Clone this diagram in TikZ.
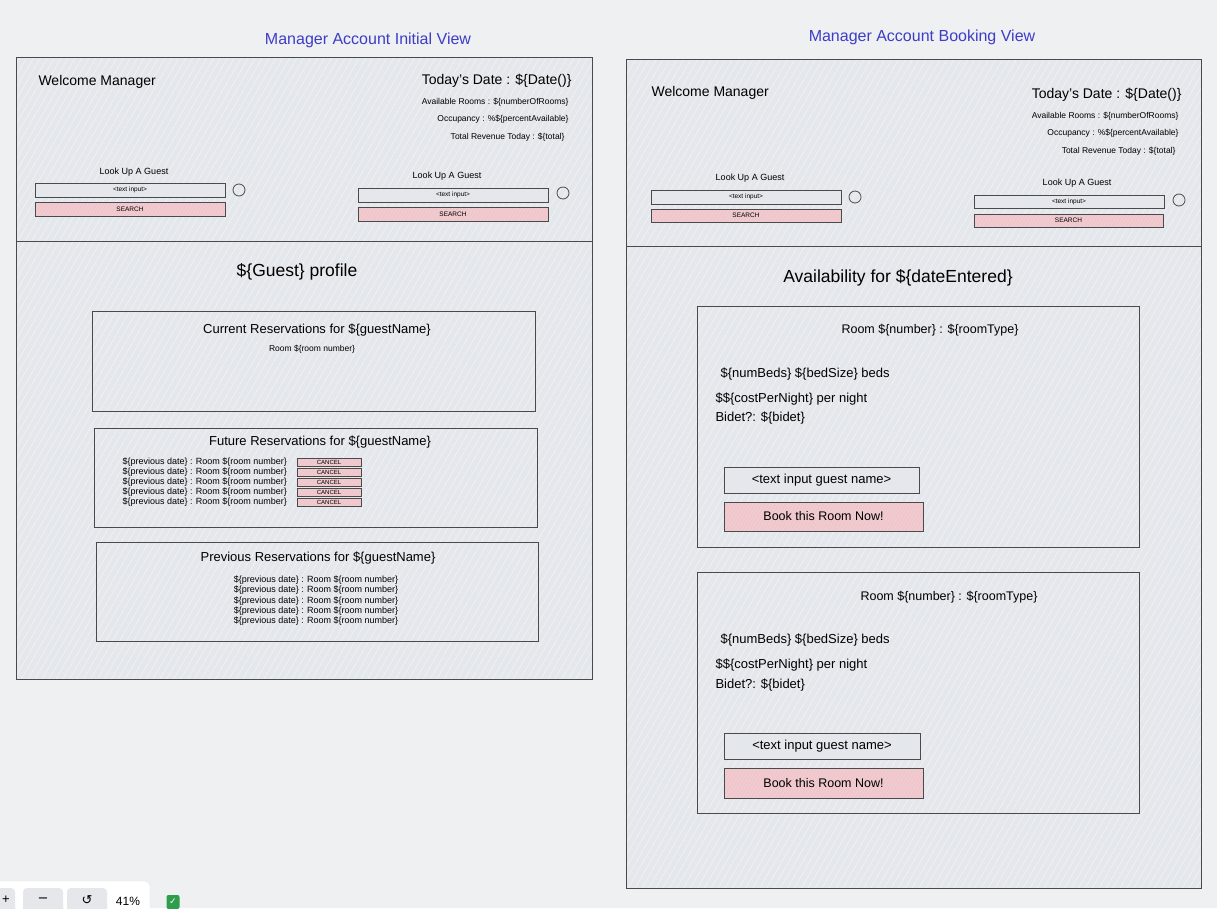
\documentclass[tikz,border=0pt]{standalone}
\usepackage{fontspec}
\setmainfont{Liberation Sans}
\newfontfamily\symfont{DejaVu Sans}
\usetikzlibrary{patterns.meta}

\definecolor{pagebg}{HTML}{EFF0F2}
\definecolor{panelfill}{HTML}{E4E7EB}
\definecolor{hatchcol}{HTML}{F4F5F7}
\definecolor{edgecol}{HTML}{4A4A4A}
\definecolor{btnpink}{HTML}{EFC6CB}
\definecolor{titleblue}{HTML}{3D3DC6}
\definecolor{toolgray}{HTML}{E6E7EA}
\definecolor{shieldgreen}{HTML}{2E9E4A}

\tikzset{
  frame/.style={draw=edgecol, line width=1pt, preaction={fill=panelfill},
    pattern={Lines[angle=60,distance=6pt,line width=.5pt]}, pattern color=hatchcol,
    inner sep=0pt},
  inputbox/.style={draw=edgecol, line width=.8pt, fill=panelfill, inner sep=0pt},
  pinkbtn/.style={draw=edgecol, line width=.8pt, preaction={fill=btnpink},
    pattern={Lines[angle=60,distance=3pt,line width=.3pt]}, pattern color=btnpink!70!white,
    inner sep=0pt},
  radio/.style={circle, draw=edgecol, line width=.8pt, minimum size=12pt, inner sep=0pt},
  viewtitle/.style={text=titleblue, font=\fontsize{16}{18}\selectfont},
  bigtext/.style={font=\fontsize{14}{16}\selectfont},
  headtext/.style={font=\fontsize{17.5}{20}\selectfont},
  midtext/.style={font=\fontsize{13}{15}\selectfont},
  smalltext/.style={font=\fontsize{8.5}{10}\selectfont},
  rowtext/.style={font=\fontsize{9}{10}\selectfont},
  tinytext/.style={font=\fontsize{6.5}{7}\selectfont},
}

\begin{document}
\begin{tikzpicture}[x=1pt,y=-1pt]

\useasboundingbox[fill=pagebg] (0,0) rectangle (1217,908);

% View: initial
\node[viewtitle] (inittitle) at (368,40) {Manager Account Initial View};
\node[frame, minimum width=576pt, minimum height=622pt] (initpage) at (304,368) {};
\node[frame, minimum width=576pt, minimum height=184pt] (inithead) at (304,149) {};

\node[bigtext, anchor=west] (initwelcome) at (35,82) {Welcome Manager};
\node[font=\fontsize{14}{16}\selectfont, anchor=east] (initdate) at (575,81) {Today's Date : \$\{Date()\}};
\node[smalltext, anchor=east] (initrooms) at (572,102) {Available Rooms : \$\{numberOfRooms\}};
\node[smalltext, anchor=east] (initocc) at (572,119) {Occupancy : \%\$\{percentAvailable\}};
\node[smalltext, anchor=east] (initrev) at (568,137) {Total Revenue Today : \$\{total\}};

% Lookup: left
\node[font=\fontsize{9}{10}\selectfont] (initlookl) at (134,172) {Look Up A Guest};
\node[inputbox, tinytext, minimum width=190pt, minimum height=14pt] (initinl) at (130,190) {<text input>};
\node[pinkbtn, tinytext, minimum width=190pt, minimum height=14pt] (initsearchl) at (130,209) {SEARCH};
\node[radio] (initradiol) at (239,190) {};

% Lookup: right
\node[font=\fontsize{9}{10}\selectfont] (initlookr) at (447,176) {Look Up A Guest};
\node[inputbox, tinytext, minimum width=190pt, minimum height=14pt] (initinr) at (453,195) {<text input>};
\node[pinkbtn, tinytext, minimum width=190pt, minimum height=14pt] (initsearchr) at (453,214) {SEARCH};
\node[radio] (initradior) at (563,193) {};

\node[headtext] (guestprofile) at (297,272) {\$\{Guest\} profile};

% Box: current reservations
\node[frame, minimum width=443pt, minimum height=100pt] (currentbox) at (313.5,361) {};
\node[midtext] (currenttitle) at (317,330) {Current Reservations for \$\{guestName\}};
\node[smalltext] (currentroom) at (312,349) {Room \$\{room number\}};

% Box: future reservations
\node[frame, minimum width=443pt, minimum height=99pt] (futurebox) at (315.5,477.5) {};
\node[midtext] (futuretitle) at (320,442) {Future Reservations for \$\{guestName\}};
\node[rowtext, anchor=west] (futurerowa) at (119,462.5) {\$\{previous date\} : Room \$\{room number\}};
\node[rowtext, anchor=west] (futurerowb) at (119,472.5) {\$\{previous date\} : Room \$\{room number\}};
\node[rowtext, anchor=west] (futurerowc) at (119,482.5) {\$\{previous date\} : Room \$\{room number\}};
\node[rowtext, anchor=west] (futurerowd) at (119,492.5) {\$\{previous date\} : Room \$\{room number\}};
\node[rowtext, anchor=west] (futurerowe) at (119,502.5) {\$\{previous date\} : Room \$\{room number\}};
\node[pinkbtn, font=\fontsize{6}{6}\selectfont, minimum width=64pt, minimum height=7.5pt] (cancela) at (329,462.5) {CANCEL};
\node[pinkbtn, font=\fontsize{6}{6}\selectfont, minimum width=64pt, minimum height=7.5pt] (cancelb) at (329,472.5) {CANCEL};
\node[pinkbtn, font=\fontsize{6}{6}\selectfont, minimum width=64pt, minimum height=7.5pt] (cancelc) at (329,482.5) {CANCEL};
\node[pinkbtn, font=\fontsize{6}{6}\selectfont, minimum width=64pt, minimum height=7.5pt] (canceld) at (329,492.5) {CANCEL};
\node[pinkbtn, font=\fontsize{6}{6}\selectfont, minimum width=64pt, minimum height=7.5pt] (cancele) at (329,502.5) {CANCEL};

% Box: previous reservations
\node[frame, minimum width=442pt, minimum height=99pt] (previousbox) at (317,591.5) {};
\node[midtext] (previoustitle) at (318,558) {Previous Reservations for \$\{guestName\}};
\node[rowtext] (previousrowa) at (316,580) {\$\{previous date\} : Room \$\{room number\}};
\node[rowtext] (previousrowb) at (316,590.5) {\$\{previous date\} : Room \$\{room number\}};
\node[rowtext] (previousrowc) at (316,601) {\$\{previous date\} : Room \$\{room number\}};
\node[rowtext] (previousrowd) at (316,611) {\$\{previous date\} : Room \$\{room number\}};
\node[rowtext] (previousrowe) at (316,621) {\$\{previous date\} : Room \$\{room number\}};

% View: booking
\node[viewtitle] (booktitle) at (922,37) {Manager Account Booking View};
\node[frame, minimum width=575pt, minimum height=829pt] (bookpage) at (913.5,473.5) {};
\node[frame, minimum width=575pt, minimum height=187pt] (bookhead) at (913.5,152.5) {};

\node[bigtext, anchor=west] (bookwelcome) at (648,93) {Welcome Manager};
\node[font=\fontsize{14}{16}\selectfont, anchor=east] (bookdate) at (1185,95) {Today's Date : \$\{Date()\}};
\node[smalltext, anchor=east] (bookrooms) at (1182,116) {Available Rooms : \$\{numberOfRooms\}};
\node[smalltext, anchor=east] (bookocc) at (1182,133) {Occupancy : \%\$\{percentAvailable\}};
\node[smalltext, anchor=east] (bookrev) at (1179,151) {Total Revenue Today : \$\{total\}};

% Lookup: left
\node[font=\fontsize{9}{10}\selectfont] (booklookl) at (750,178) {Look Up A Guest};
\node[inputbox, tinytext, minimum width=190pt, minimum height=14pt] (bookinl) at (746,197) {<text input>};
\node[pinkbtn, tinytext, minimum width=190pt, minimum height=13pt] (booksearchl) at (746,215.5) {SEARCH};
\node[radio] (bookradiol) at (855,197) {};

% Lookup: right
\node[font=\fontsize{9}{10}\selectfont] (booklookr) at (1077,183) {Look Up A Guest};
\node[inputbox, tinytext, minimum width=190pt, minimum height=13pt] (bookinr) at (1069,201.5) {<text input>};
\node[pinkbtn, tinytext, minimum width=189pt, minimum height=13pt] (booksearchr) at (1068.5,220.5) {SEARCH};
\node[radio] (bookradior) at (1179,200) {};

\node[headtext] (availability) at (898,278) {Availability for \$\{dateEntered\}};

% Box: room one
\node[frame, minimum width=442pt, minimum height=241pt] (roomone) at (918,426.5) {};
\node[font=\fontsize{12.5}{14}\selectfont] (roomonetype) at (930,330) {Room \$\{number\} : \$\{roomType\}};
\node[midtext, anchor=west] (roomonebeds) at (717,374) {\$\{numBeds\} \$\{bedSize\} beds};
\node[midtext, anchor=west] (roomonecost) at (712,399) {\$\$\{costPerNight\} per night};
\node[midtext, anchor=west] (roomonebidet) at (712,418) {Bidet?: \$\{bidet\}};
\node[inputbox, midtext, minimum width=195pt, minimum height=26pt] (roomoneinput) at (821.5,480) {<text input guest name>};
\node[pinkbtn, font=\fontsize{12.5}{14}\selectfont, minimum width=199pt, minimum height=29pt] (roomonebook) at (823.5,516.5) {Book this Room Now!};

% Box: room two
\node[frame, minimum width=442pt, minimum height=241pt] (roomtwo) at (918,692.5) {};
\node[font=\fontsize{12.5}{14}\selectfont] (roomtwotype) at (949,597) {Room \$\{number\} : \$\{roomType\}};
\node[midtext, anchor=west] (roomtwobeds) at (717,640) {\$\{numBeds\} \$\{bedSize\} beds};
\node[midtext, anchor=west] (roomtwocost) at (712,665) {\$\$\{costPerNight\} per night};
\node[midtext, anchor=west] (roomtwobidet) at (712,685) {Bidet?: \$\{bidet\}};
\node[inputbox, midtext, minimum width=196pt, minimum height=26pt] (roomtwoinput) at (822,746) {<text input guest name>};
\node[pinkbtn, font=\fontsize{12.5}{14}\selectfont, minimum width=199pt, minimum height=30pt] (roomtwobook) at (823.5,783) {Book this Room Now!};

% Toolbar: zoom
\node[draw=toolgray, fill=white, rounded corners=5pt, minimum width=165pt, minimum height=50pt] (toolbar) at (67.5,906) {};
\node[fill=toolgray, rounded corners=4pt, minimum width=26pt, minimum height=40pt] (zoomin) at (2,908) {};
\node[fill=toolgray, rounded corners=4pt, minimum width=40pt, minimum height=40pt] (zoomout) at (43,908) {};
\node[fill=toolgray, rounded corners=4pt, minimum width=40pt, minimum height=40pt] (zoomreset) at (87,908) {};
\node[font=\fontsize{13}{14}\selectfont] (zoominsign) at (6,900) {+};
\node[font=\fontsize{13}{14}\selectfont] (zoomoutsign) at (43,900) {\symfont −};
\node[font=\fontsize{13}{14}\selectfont] (zoomresetsign) at (87,900) {\symfont ↺};
\node[font=\fontsize{12}{14}\selectfont] (zoomlevel) at (128,901) {41\%};
\node[fill=shieldgreen, minimum width=13pt, minimum height=14pt, inner sep=0pt, rounded corners=2pt, text=white, font=\fontsize{9}{10}\selectfont] (shield) at (173,902) {\symfont ✓};

\end{tikzpicture}
\end{document}
